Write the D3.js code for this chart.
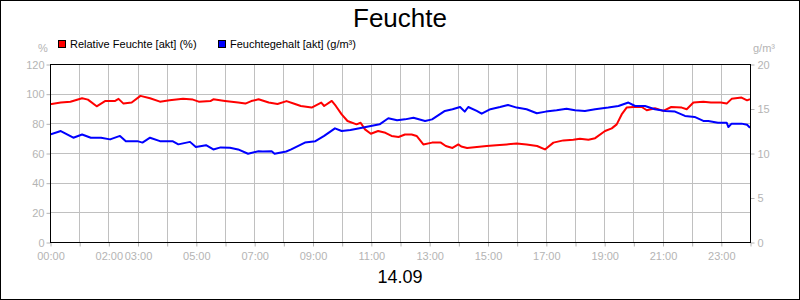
<!DOCTYPE html>
<html>
<head>
<meta charset="utf-8">
<script src="https://cdn.jsdelivr.net/npm/d3@7"></script>
<style>
  html, body { margin: 0; padding: 0; background: #fff; }
  svg { display: block; font-family: "Liberation Sans", Arial, sans-serif; }
</style>
</head>
<body>
<svg id="chart" width="800" height="300"></svg>
<script>
// ---- Data ----
const title = "Feuchte";
const dateLabel = "14.09";
const seriesNames = ["Relative Feuchte [akt] (%)", "Feuchtegehalt [akt] (g/m³)"];
const leftUnit = "%";
const rightUnit = "g/m³";

// Relative Feuchte (%), time in hours of the day
const rfHours = [0.0,0.37,0.7,1.1,1.3,1.6,1.9,2.22,2.35,2.52,2.8,3.1,3.43,3.77,4.1,4.56,4.9,5.1,5.5,5.6,
  6.0,6.45,6.7,6.9,7.15,7.5,7.8,8.11,8.4,8.6,8.97,9.3,9.4,9.66,9.8,10.0,10.2,10.51,10.65,10.8,
  11.0,11.25,11.5,11.71,11.95,12.17,12.4,12.57,12.8,13.1,13.4,13.57,13.8,14.0,14.1,14.3,14.97,15.3,15.66,16.0,
  16.34,16.7,16.97,17.26,17.6,17.94,18.17,18.46,18.69,19.03,19.26,19.43,19.6,19.77,20.0,20.29,20.46,20.74,21.03,21.3,
  21.66,21.83,22.06,22.4,22.66,23.0,23.2,23.37,23.71,23.9,24.0];
const rfValues = [92.8,94,94.6,96.9,96,91.5,95.1,95,96.5,93.3,94,98.5,96.9,94.6,95.5,96.5,96,94.6,95,96.2,
  95.1,94,93.3,95,96.2,94,93,95,93,91.7,90.6,94,91.7,95.1,91.7,86,81.6,79.3,80.4,75.9,
  73,74.8,73.6,71.5,70.8,72.5,72.5,71.5,65.8,67,67,64.7,63.4,65.8,64.4,63.4,64.7,65.3,65.8,66.4,
  65.8,64.7,62.4,67,68.5,69,69.6,69,70,74.8,76.6,79.3,86,90.6,91,91,88.8,90.2,88.4,91,
  90.6,89.5,94,94.6,94,94,93.3,96.5,97.4,95.5,96.2];

// Feuchtegehalt (g/m³)
const fgHours = [0.0,0.37,0.8,1.1,1.4,1.75,2.06,2.4,2.6,3.0,3.17,3.43,3.77,4.2,4.4,4.8,5.0,5.35,5.6,5.85,
  6.17,6.45,6.79,7.15,7.3,7.6,7.7,8.1,8.27,8.74,9.1,9.4,9.77,10.0,10.3,10.7,11.0,11.3,11.6,11.9,
  12.17,12.46,12.86,13.1,13.54,13.8,14.06,14.22,14.34,14.63,14.8,15.1,15.43,15.7,16.0,16.34,16.69,17.0,17.37,17.71,
  18.0,18.34,18.69,19.14,19.49,19.83,20.06,20.4,20.74,21.1,21.43,21.77,22.1,22.4,22.57,22.9,23.2,23.26,23.37,23.71,
  23.9,24.0];
const fgValues = [12.08,12.47,11.72,12.08,11.72,11.72,11.53,11.92,11.33,11.33,11.17,11.72,11.33,11.33,10.97,11.25,10.67,10.88,10.4,10.63,
  10.58,10.4,9.92,10.2,10.17,10.2,9.92,10.17,10.4,11.17,11.33,11.92,12.77,12.47,12.58,12.83,13.03,13.22,13.9,13.67,
  13.78,13.97,13.6,13.78,14.73,14.92,15.17,14.65,15.17,14.73,14.42,14.92,15.17,15.4,15.1,14.92,14.47,14.65,14.8,14.98,
  14.8,14.73,14.92,15.1,15.28,15.67,15.28,15.28,14.92,14.73,14.65,14.17,14.05,13.6,13.6,13.4,13.4,12.92,13.3,13.3,
  13.17,12.83];

const leftTicks = [0, 20, 40, 60, 80, 100, 120];
const rightTicks = [0, 5, 10, 15, 20];
const xLabelHours = [0, 2, 3, 5, 7, 9, 11, 13, 15, 17, 19, 21, 23];
const xGridHours = d3.range(0, 25);

// ---- Layout ----
const W = 800, H = 300;
const plot = { left: 50, right: 750, top: 64, bottom: 242 };
const grey = "#b4b4b4";
const gridColor = "#c0c0c0";

const svg = d3.select("#chart");

const x = d3.scaleLinear().domain([0, 24]).range([plot.left, plot.right]);
const yL = d3.scaleLinear().domain([0, 120]).range([plot.bottom, plot.top]);
const yR = d3.scaleLinear().domain([0, 20]).range([plot.bottom, plot.top]);

// outer frame
svg.append("rect").attr("x", 0.5).attr("y", 0.5).attr("width", W - 1).attr("height", H - 1)
  .attr("fill", "#fff").attr("stroke", "#000");

// title
svg.append("text").attr("x", 400).attr("y", 27).attr("text-anchor", "middle")
  .attr("font-size", 26).attr("fill", "#000").text(title);

// grid
const g = svg.append("g");
g.selectAll(".vg").data(xGridHours).join("line")
  .attr("x1", d => Math.round(x(d)) + 0.5).attr("x2", d => Math.round(x(d)) + 0.5)
  .attr("y1", plot.top).attr("y2", plot.bottom)
  .attr("stroke", gridColor).attr("stroke-width", 1);
g.selectAll(".hg").data(leftTicks).join("line")
  .attr("x1", plot.left).attr("x2", plot.right)
  .attr("y1", d => Math.round(yL(d)) + 0.5).attr("y2", d => Math.round(yL(d)) + 0.5)
  .attr("stroke", gridColor).attr("stroke-width", 1);

// x axis (ticks every hour, labels at selected hours)
const xAxis = d3.axisBottom(x).tickValues(xGridHours).tickSize(4).tickSizeOuter(0)
  .tickFormat(d => xLabelHours.includes(d) ? String(d).padStart(2, "0") + ":00" : "");
const gx = svg.append("g").attr("transform", `translate(0.5,${plot.bottom + 0.5})`).call(xAxis);
gx.select(".domain").remove();
gx.selectAll("line").attr("stroke", grey);
gx.selectAll("text").attr("fill", grey).attr("font-size", 11).attr("dy", "0.95em")
  .attr("font-family", "Liberation Sans, Arial, sans-serif");

// left axis
const lAxis = d3.axisLeft(yL).tickValues(leftTicks).tickSize(4).tickSizeOuter(0).tickPadding(2);
const gl = svg.append("g").attr("transform", `translate(${plot.left + 0.5},0.5)`).call(lAxis);
gl.select(".domain").remove();
gl.selectAll("line").attr("stroke", grey);
gl.selectAll("text").attr("fill", grey).attr("font-size", 11)
  .attr("font-family", "Liberation Sans, Arial, sans-serif");

// right axis
const rAxis = d3.axisRight(yR).tickValues(rightTicks).tickSize(4).tickSizeOuter(0).tickPadding(3);
const gr = svg.append("g").attr("transform", `translate(${plot.right + 0.5},0.5)`).call(rAxis);
gr.select(".domain").remove();
gr.selectAll("line").attr("stroke", grey);
gr.selectAll("text").attr("fill", grey).attr("font-size", 11)
  .attr("font-family", "Liberation Sans, Arial, sans-serif");

// units
svg.append("text").attr("x", 43).attr("y", 52).attr("text-anchor", "middle")
  .attr("font-size", 11).attr("fill", grey).text(leftUnit);
svg.append("text").attr("x", 753).attr("y", 52).attr("text-anchor", "start")
  .attr("font-size", 11).attr("fill", grey).text(rightUnit);

// lines
const clip = svg.append("clipPath").attr("id", "clip").append("rect")
  .attr("x", plot.left).attr("y", plot.top).attr("width", plot.right - plot.left).attr("height", plot.bottom - plot.top);

const rfData = rfHours.map((h, i) => [h, rfValues[i]]);
const fgData = fgHours.map((h, i) => [h, fgValues[i]]);

svg.append("path").datum(rfData)
  .attr("clip-path", "url(#clip)")
  .attr("fill", "none").attr("stroke", "#ff0000").attr("stroke-width", 2).attr("stroke-linejoin", "round")
  .attr("d", d3.line().x(d => x(d[0])).y(d => yL(d[1])));

svg.append("path").datum(fgData)
  .attr("clip-path", "url(#clip)")
  .attr("fill", "none").attr("stroke", "#0000ff").attr("stroke-width", 2).attr("stroke-linejoin", "round")
  .attr("d", d3.line().x(d => x(d[0])).y(d => yR(d[1])));

// plot frame
svg.append("rect").attr("x", plot.left + 0.5).attr("y", plot.top + 0.5)
  .attr("width", plot.right - plot.left).attr("height", plot.bottom - plot.top)
  .attr("fill", "none").attr("stroke", "#000").attr("stroke-width", 1);

// legend
const legend = [
  { name: seriesNames[0], color: "#ff0000", x: 58 },
  { name: seriesNames[1], color: "#0000ff", x: 218 }
];
const lg = svg.append("g").selectAll("g").data(legend).join("g");
lg.append("rect").attr("x", d => d.x + 0.5).attr("y", 40.5).attr("width", 7).attr("height", 7)
  .attr("fill", d => d.color).attr("stroke", "#000");
lg.append("text").attr("x", d => d.x + 12).attr("y", 48)
  .attr("font-size", 11).attr("fill", "#000").text(d => d.name);

// date label
svg.append("text").attr("x", 400).attr("y", 283).attr("text-anchor", "middle")
  .attr("font-size", 18).attr("fill", "#000").text(dateLabel);
</script>
</body>
</html>
